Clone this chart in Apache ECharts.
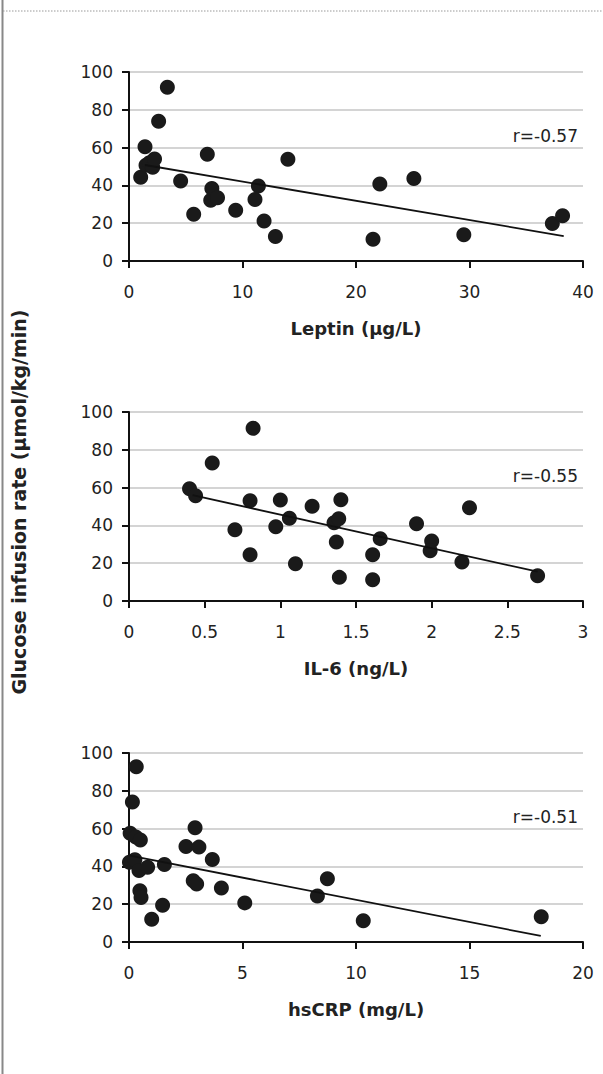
<!DOCTYPE html>
<html>
<head>
<meta charset="utf-8">
<script src="https://cdn.jsdelivr.net/npm/echarts@6/dist/echarts.min.js"></script>
<style>
html,body{margin:0;padding:0;background:#fff;}
#chart{width:603px;height:1074px;}
</style>
</head>
<body>
<div id="chart"></div>
<script>
// ---- data ----
const leptinPoints = [
  [1.03,44.3],[1.41,60.5],[1.5,50.6],[1.8,52.0],[2.09,49.6],[2.25,54.0],[2.61,73.9],[3.38,91.9],
  [4.55,42.3],[5.7,24.7],[6.9,56.5],[7.2,32.1],[7.3,38.3],[7.8,33.5],[9.4,26.8],
  [11.1,32.6],[11.4,39.7],[11.9,21.2],[12.9,12.9],[14.0,53.8],
  [21.5,11.5],[22.1,40.7],[25.1,43.7],[29.5,13.9],[37.3,19.9],[38.2,24.0]
];
const leptinTrend = [[1.4,50.8],[38.3,13.2]];
const il6Points = [
  [0.40,59.4],[0.44,55.7],[0.55,73.0],[0.70,37.7],[0.80,53.1],[0.80,24.5],[0.82,91.4],
  [0.97,39.3],[1.00,53.4],[1.06,43.8],[1.10,19.7],[1.21,50.1],[1.355,41.4],[1.386,43.5],
  [1.40,53.6],[1.37,31.2],[1.39,12.5],[1.66,33.0],[1.61,24.5],[1.61,11.3],[1.90,40.9],
  [2.00,31.7],[1.99,26.6],[2.25,49.4],[2.20,20.6],[2.70,13.4]
];
const il6Trend = [[0.42,56.0],[2.70,15.5]];
const crpPoints = [
  [0.32,92.7],[0.15,74.1],[0.05,57.5],[0.30,55.5],[0.50,54.0],[0.02,42.2],[0.26,43.5],
  [0.44,37.8],[0.82,39.5],[1.56,41.0],[0.48,27.1],[0.53,23.6],[1.48,19.5],[1.00,12.1],
  [2.91,60.5],[2.51,50.5],[3.08,50.2],[2.83,32.4],[2.98,30.7],[3.67,43.6],[4.07,28.6],
  [5.10,20.7],[8.30,24.3],[8.74,33.5],[10.32,11.2],[18.16,13.3]
];
const crpTrend = [[0.04,45.7],[18.14,3.2]];
const yTicks = {min:0, max:100, interval:20};
const panels = [
  {name:'Leptin (\u00b5g/L)', max:40, interval:10, points:leptinPoints, trend:leptinTrend, r:'r=-0.57'},
  {name:'IL-6 (ng/L)', max:3, interval:0.5, points:il6Points, trend:il6Trend, r:'r=-0.55'},
  {name:'hsCRP (mg/L)', max:20, interval:5, points:crpPoints, trend:crpTrend, r:'r=-0.51'}
];
const yAxisTitle = 'Glucose infusion rate (\u00b5mol/kg/min)';

// ---- layout ----
const gridTops = [72, 412, 753];
const NUMFONT = 'DejaVu Sans, sans-serif';
const TITLEFONT = 'DejaVu Sans, sans-serif';
const grids = [], xAxes = [], yAxes = [], series = [], graphics = [];
panels.forEach((p, i) => {
  grids.push({left:129, top:gridTops[i], width:454, height:189});
  xAxes.push({
    type:'value', gridIndex:i, min:0, max:p.max, interval:p.interval,
    name:p.name, nameLocation:'middle', nameGap:58,
    nameTextStyle:{fontFamily:TITLEFONT, fontWeight:'bold', fontSize:18, color:'#222'},
    axisLine:{show:true, onZero:false, lineStyle:{color:'#111', width:2}},
    axisTick:{show:true, length:7, lineStyle:{color:'#111', width:2}},
    axisLabel:{margin:22, fontFamily:NUMFONT, fontSize:17, color:'#222'},
    splitLine:{show:false}
  });
  yAxes.push({
    type:'value', gridIndex:i, min:yTicks.min, max:yTicks.max, interval:yTicks.interval,
    axisLine:{show:true, lineStyle:{color:'#111', width:2}},
    axisTick:{show:true, length:7, lineStyle:{color:'#111', width:2}},
    axisLabel:{margin:16, fontFamily:NUMFONT, fontSize:17, color:'#222'},
    splitLine:{show:true, lineStyle:{color:'#d4d4d4', width:2}}
  });
  series.push({
    type:'scatter', xAxisIndex:i, yAxisIndex:i, data:p.points,
    symbol:'circle', symbolSize:15, itemStyle:{color:'#1a1a1a', opacity:1}, z:3
  });
  series.push({
    type:'line', xAxisIndex:i, yAxisIndex:i, data:p.trend,
    symbol:'none', lineStyle:{color:'#111', width:1.8}, z:4
  });
  graphics.push({
    type:'text', right:25, top:gridTops[i] + 55,
    style:{text:p.r, fontFamily:NUMFONT, fontSize:17, fill:'#222'}
  });
});
graphics.push({type:'line', shape:{x1:2.5, y1:0, x2:2.5, y2:1074}, style:{stroke:'#888', lineWidth:2}});
graphics.push({type:'line', shape:{x1:3, y1:11, x2:603, y2:11}, style:{stroke:'#999', lineWidth:1, lineDash:[1.5,1.5]}});
graphics.push({
  type:'text', x:19, y:502, rotation:Math.PI/2,
  style:{text:yAxisTitle, fontFamily:TITLEFONT, fontWeight:'bold', fontSize:19, fill:'#222', align:'center', verticalAlign:'middle'}
});

const chart = echarts.init(document.getElementById('chart'), null, {renderer:'svg'});
chart.setOption({
  animation:false,
  grid:grids, xAxis:xAxes, yAxis:yAxes, series:series, graphic:graphics
});
</script>
</body>
</html>
